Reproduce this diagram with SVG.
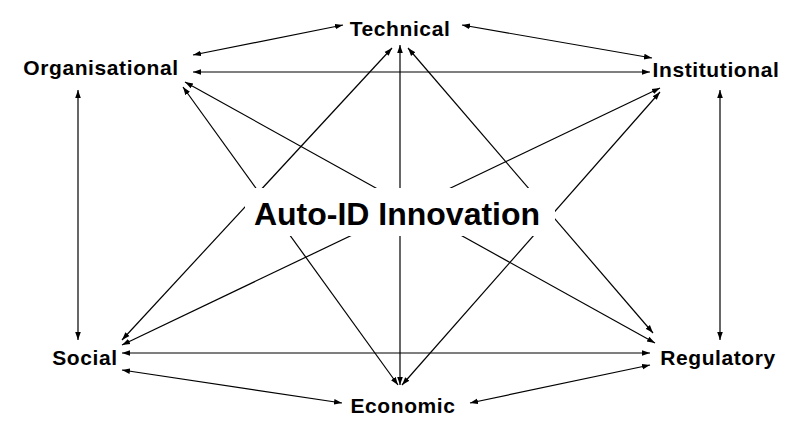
<svg xmlns="http://www.w3.org/2000/svg" width="803" height="432" viewBox="0 0 803 432">
<style>
.n{font-family:"Liberation Sans",Arial,sans-serif;font-weight:bold;font-size:21px;letter-spacing:0.6px;fill:#000}
.c line{stroke:#000;stroke-width:1.2;marker-start:url(#a);marker-end:url(#a)}
</style>
<defs><marker id="a" viewBox="0 0 10 10" refX="10" refY="5" markerWidth="8" markerHeight="8" orient="auto-start-reverse" markerUnits="userSpaceOnUse"><path d="M0,1.5L10,5L0,8.5z" fill="#000"/></marker></defs>
<rect width="803" height="432" fill="#fff"/>
<g class="c">
<line x1="343" y1="25" x2="193" y2="55"/>
<line x1="462" y1="25" x2="652" y2="58"/>
<line x1="193" y1="72" x2="650" y2="72"/>
<line x1="78" y1="90" x2="78" y2="340"/>
<line x1="720" y1="90" x2="720" y2="340"/>
<line x1="122" y1="353" x2="650" y2="353"/>
<line x1="122" y1="370" x2="342" y2="403"/>
<line x1="470" y1="403" x2="650" y2="365"/>
<line x1="400" y1="45" x2="400" y2="385"/>
<line x1="185" y1="82" x2="655" y2="343"/>
<line x1="392" y1="48" x2="122" y2="340"/>
<line x1="408" y1="48" x2="653" y2="333"/>
<line x1="660" y1="88" x2="122" y2="345"/>
<line x1="660" y1="92" x2="402" y2="385"/>
<line x1="183" y1="87" x2="398" y2="385"/>
</g>
<rect x="245" y="188" width="310" height="48" fill="#fff"/>
<g id="center"><text x="397" y="225" text-anchor="middle" style="font-family:'Liberation Sans',Arial,sans-serif;font-weight:bold;font-size:32px">Auto-ID Innovation</text></g>
<g id="technical"><text class="n" x="400" y="36" text-anchor="middle">Technical</text></g>
<g id="organisational"><text class="n" x="101" y="75" text-anchor="middle">Organisational</text></g>
<g id="institutional"><text class="n" x="716" y="77" text-anchor="middle">Institutional</text></g>
<g id="social"><text class="n" x="85" y="365" text-anchor="middle">Social</text></g>
<g id="regulatory"><text class="n" x="718" y="365" text-anchor="middle">Regulatory</text></g>
<g id="economic"><text class="n" x="403" y="413" text-anchor="middle">Economic</text></g>
</svg>
